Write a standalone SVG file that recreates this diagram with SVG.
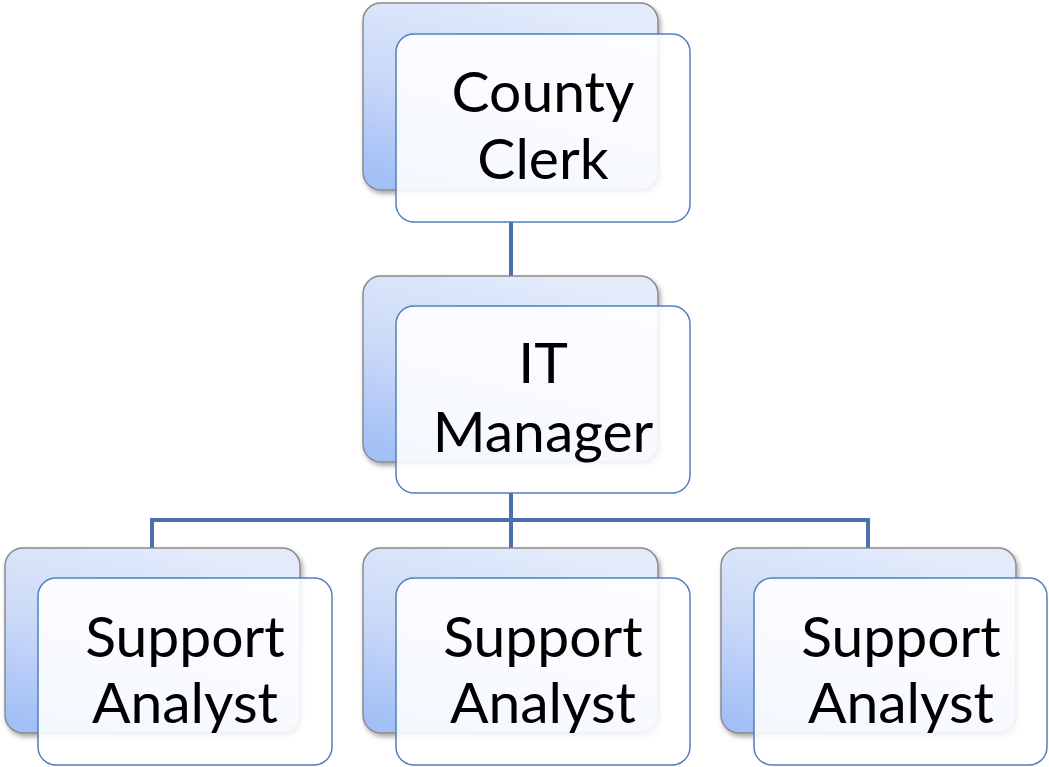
<svg xmlns="http://www.w3.org/2000/svg" width="1049" height="767" viewBox="0 0 1049 767">
<defs>
<linearGradient id="backGrad" x1="0.6" y1="0" x2="0.2" y2="1">
<stop offset="0" stop-color="#e3ebfb"/>
<stop offset="0.5" stop-color="#ccdaf8"/>
<stop offset="1" stop-color="#a2bff6"/>
</linearGradient>
<filter id="shadow" x="-10%" y="-10%" width="120%" height="125%">
<feDropShadow dx="2" dy="3" stdDeviation="2.5" flood-color="#000" flood-opacity="0.35"/>
</filter>
</defs>
<style>
.back{fill:url(#backGrad);stroke:#8a8a8a;stroke-width:1.5;filter:url(#shadow)}
.front{fill:#ffffff;fill-opacity:0.88;stroke:#4f81bd;stroke-width:1.5}
.lbl{font-family:Lato,"Open Sans",sans-serif;font-size:57px;fill:#000;text-anchor:middle}
.conn{stroke:#4a71aa;stroke-width:4;fill:none}
</style>
<rect width="1049" height="767" fill="#ffffff"/>
<g id="connectors">
<line class="conn" x1="511" y1="222" x2="511" y2="306"/>
<path class="conn" d="M511 493 V520 M152 548 V520 H868 V548 M511 520 V548"/>
</g>
<g id="county-clerk">
<rect class="back" x="363" y="3" width="295" height="187" rx="18"/>
<rect class="front" x="396" y="34" width="294" height="188" rx="18"/>
<text class="lbl" x="543" y="112">County</text>
<text class="lbl" x="543" y="179">Clerk</text>
</g>
<g id="it-manager">
<rect class="back" x="363" y="276" width="295" height="186" rx="18"/>
<rect class="front" x="396" y="306" width="294" height="187" rx="18"/>
<text class="lbl" x="543" y="383">IT</text>
<text class="lbl" x="543" y="452">Manager</text>
</g>
<g id="support-analyst-1">
<rect class="back" x="5" y="548" width="295" height="185" rx="18"/>
<rect class="front" x="38" y="578" width="294" height="187" rx="18"/>
<text class="lbl" x="185" y="657">Support</text>
<text class="lbl" x="185" y="723">Analyst</text>
</g>
<g id="support-analyst-2">
<rect class="back" x="363" y="548" width="295" height="185" rx="18"/>
<rect class="front" x="396" y="578" width="294" height="187" rx="18"/>
<text class="lbl" x="543" y="657">Support</text>
<text class="lbl" x="543" y="723">Analyst</text>
</g>
<g id="support-analyst-3">
<rect class="back" x="721" y="548" width="295" height="185" rx="18"/>
<rect class="front" x="754" y="578" width="293" height="187" rx="18"/>
<text class="lbl" x="901" y="657">Support</text>
<text class="lbl" x="901" y="723">Analyst</text>
</g>
</svg>
